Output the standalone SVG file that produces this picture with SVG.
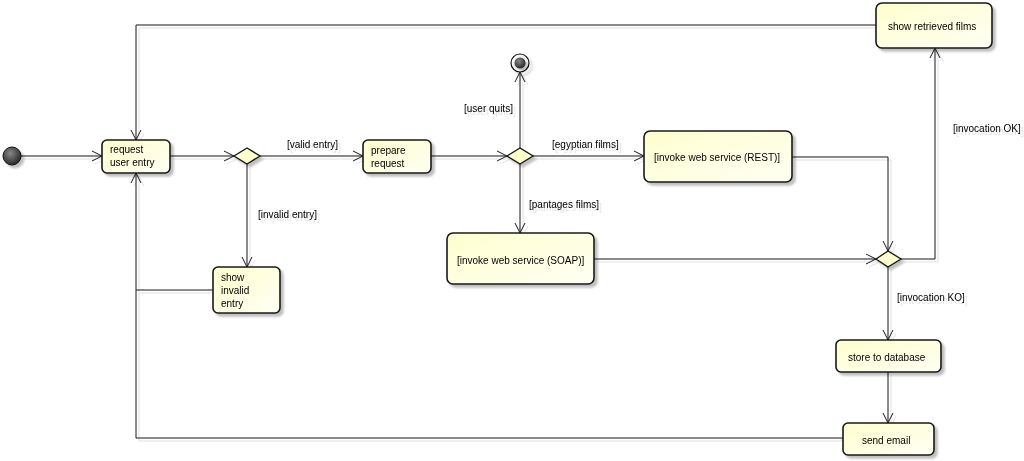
<svg xmlns="http://www.w3.org/2000/svg" width="1024" height="461" viewBox="0 0 1024 461">
<style>
.node{stroke:#181818;stroke-width:1.6;fill:url(#g)}
.dia{stroke:#181818;stroke-width:1.4;fill:#FEFECE}
.edge{fill:none;stroke:#181818;stroke-width:1}
text{font-family:"Liberation Sans",Arial,sans-serif;font-size:10px;fill:#000}
</style>
<defs>
<linearGradient id="g" x1="0" y1="0" x2="1" y2="1">
<stop offset="0" stop-color="#FEFECE"/>
<stop offset="1" stop-color="#FFFFF4"/>
</linearGradient>
<radialGradient id="rg" cx="0.4" cy="0.35" r="0.7">
<stop offset="0" stop-color="#888"/>
<stop offset="1" stop-color="#222"/>
</radialGradient>
<filter id="sh" x="-20%" y="-20%" width="150%" height="150%">
<feGaussianBlur in="SourceAlpha" stdDeviation="1.2"/>
<feOffset dx="3" dy="3" result="b"/>
<feComponentTransfer><feFuncA type="linear" slope="0.25"/></feComponentTransfer>
<feMerge><feMergeNode/><feMergeNode in="SourceGraphic"/></feMerge>
</filter>
<filter id="lsh" x="-5%" y="-5%" width="110%" height="110%">
<feOffset in="SourceAlpha" dx="3" dy="3"/>
<feComponentTransfer><feFuncA type="linear" slope="0.12"/></feComponentTransfer>
<feMerge><feMergeNode/><feMergeNode in="SourceGraphic"/></feMerge>
</filter>
<marker id="a" viewBox="0 0 12 12" refX="11" refY="6" markerWidth="12" markerHeight="12" markerUnits="userSpaceOnUse" orient="auto">
<path d="M1,1 L11,6 L1,11" fill="none" stroke="#181818" stroke-width="1"/>
</marker>
</defs>

<g id="connectors" filter="url(#lsh)">
<path class="edge" d="M21,156 L102,156" marker-end="url(#a)"/>
<path class="edge" d="M170,156 L234,156" marker-end="url(#a)"/>
<path class="edge" d="M260,156 L363,156" marker-end="url(#a)"/>
<path class="edge" d="M247,164 L247,267" marker-end="url(#a)"/>
<path class="edge" d="M213,290 L136,290"/>
<path class="edge" d="M843,438 L136,438 L136,173" marker-end="url(#a)"/>
<path class="edge" d="M876,25 L136,25 L136,140" marker-end="url(#a)"/>
<path class="edge" d="M431,156 L507,156" marker-end="url(#a)"/>
<path class="edge" d="M520,148 L520,72" marker-end="url(#a)"/>
<path class="edge" d="M533,156 L644,156" marker-end="url(#a)"/>
<path class="edge" d="M520,164 L520,233" marker-end="url(#a)"/>
<path class="edge" d="M792,157 L888,157 L888,251" marker-end="url(#a)"/>
<path class="edge" d="M594,259 L876,259" marker-end="url(#a)"/>
<path class="edge" d="M901,259 L935,259 L935,48" marker-end="url(#a)"/>
<path class="edge" d="M888,267 L888,340" marker-end="url(#a)"/>
<path class="edge" d="M888,372 L888,423" marker-end="url(#a)"/>
<text x="287" y="148">[valid entry]</text>
<text x="258" y="218">[invalid entry]</text>
<text x="464" y="112">[user quits]</text>
<text x="552" y="148">[egyptian films]</text>
<text x="529" y="208">[pantages films]</text>
<text x="953" y="132">[invocation OK]</text>
<text x="897" y="301">[invocation KO]</text>
</g>

<g id="start" filter="url(#sh)">
<circle cx="12" cy="156" r="9" fill="url(#rg)" stroke="#111" stroke-width="1"/>
</g>
<g id="end" filter="url(#sh)">
<circle cx="520" cy="63" r="9" fill="none" stroke="#111" stroke-width="1.2"/>
<circle cx="520" cy="63" r="5.5" fill="url(#rg)"/>
</g>

<g id="request" filter="url(#sh)">
<rect class="node" x="102" y="140" width="68" height="33" rx="5"/>
<text x="110" y="153">request</text>
<text x="110" y="166">user entry</text>
</g>
<g id="d1" filter="url(#sh)">
<polygon class="dia" points="234,156 247,148 260,156 247,164"/>
</g>
<g id="showinvalid" filter="url(#sh)">
<rect class="node" x="213" y="267" width="67" height="46" rx="5"/>
<text x="221" y="281">show</text>
<text x="221" y="294">invalid</text>
<text x="221" y="307">entry</text>
</g>
<g id="prepare" filter="url(#sh)">
<rect class="node" x="363" y="140" width="68" height="33" rx="5"/>
<text x="371" y="154">prepare</text>
<text x="371" y="167">request</text>
</g>
<g id="d2" filter="url(#sh)">
<polygon class="dia" points="507,156 520,148 533,156 520,164"/>
</g>
<g id="rest" filter="url(#sh)">
<rect class="node" x="644" y="131" width="148" height="51" rx="6"/>
<text x="654" y="161">[invoke web service (REST)]</text>
</g>
<g id="soap" filter="url(#sh)">
<rect class="node" x="447" y="233" width="147" height="51" rx="6"/>
<text x="457" y="264">[invoke web service (SOAP)]</text>
</g>
<g id="d3" filter="url(#sh)">
<polygon class="dia" points="876,259 888,251 901,259 888,267"/>
</g>
<g id="showfilms" filter="url(#sh)">
<rect class="node" x="876" y="3" width="116" height="45" rx="6"/>
<text x="888" y="30">show retrieved films</text>
</g>
<g id="store" filter="url(#sh)">
<rect class="node" x="836" y="340" width="105" height="32" rx="5"/>
<text x="848" y="361">store to database</text>
</g>
<g id="email" filter="url(#sh)">
<rect class="node" x="843" y="423" width="91" height="32" rx="5"/>
<text x="862" y="444">send email</text>
</g>
</svg>
